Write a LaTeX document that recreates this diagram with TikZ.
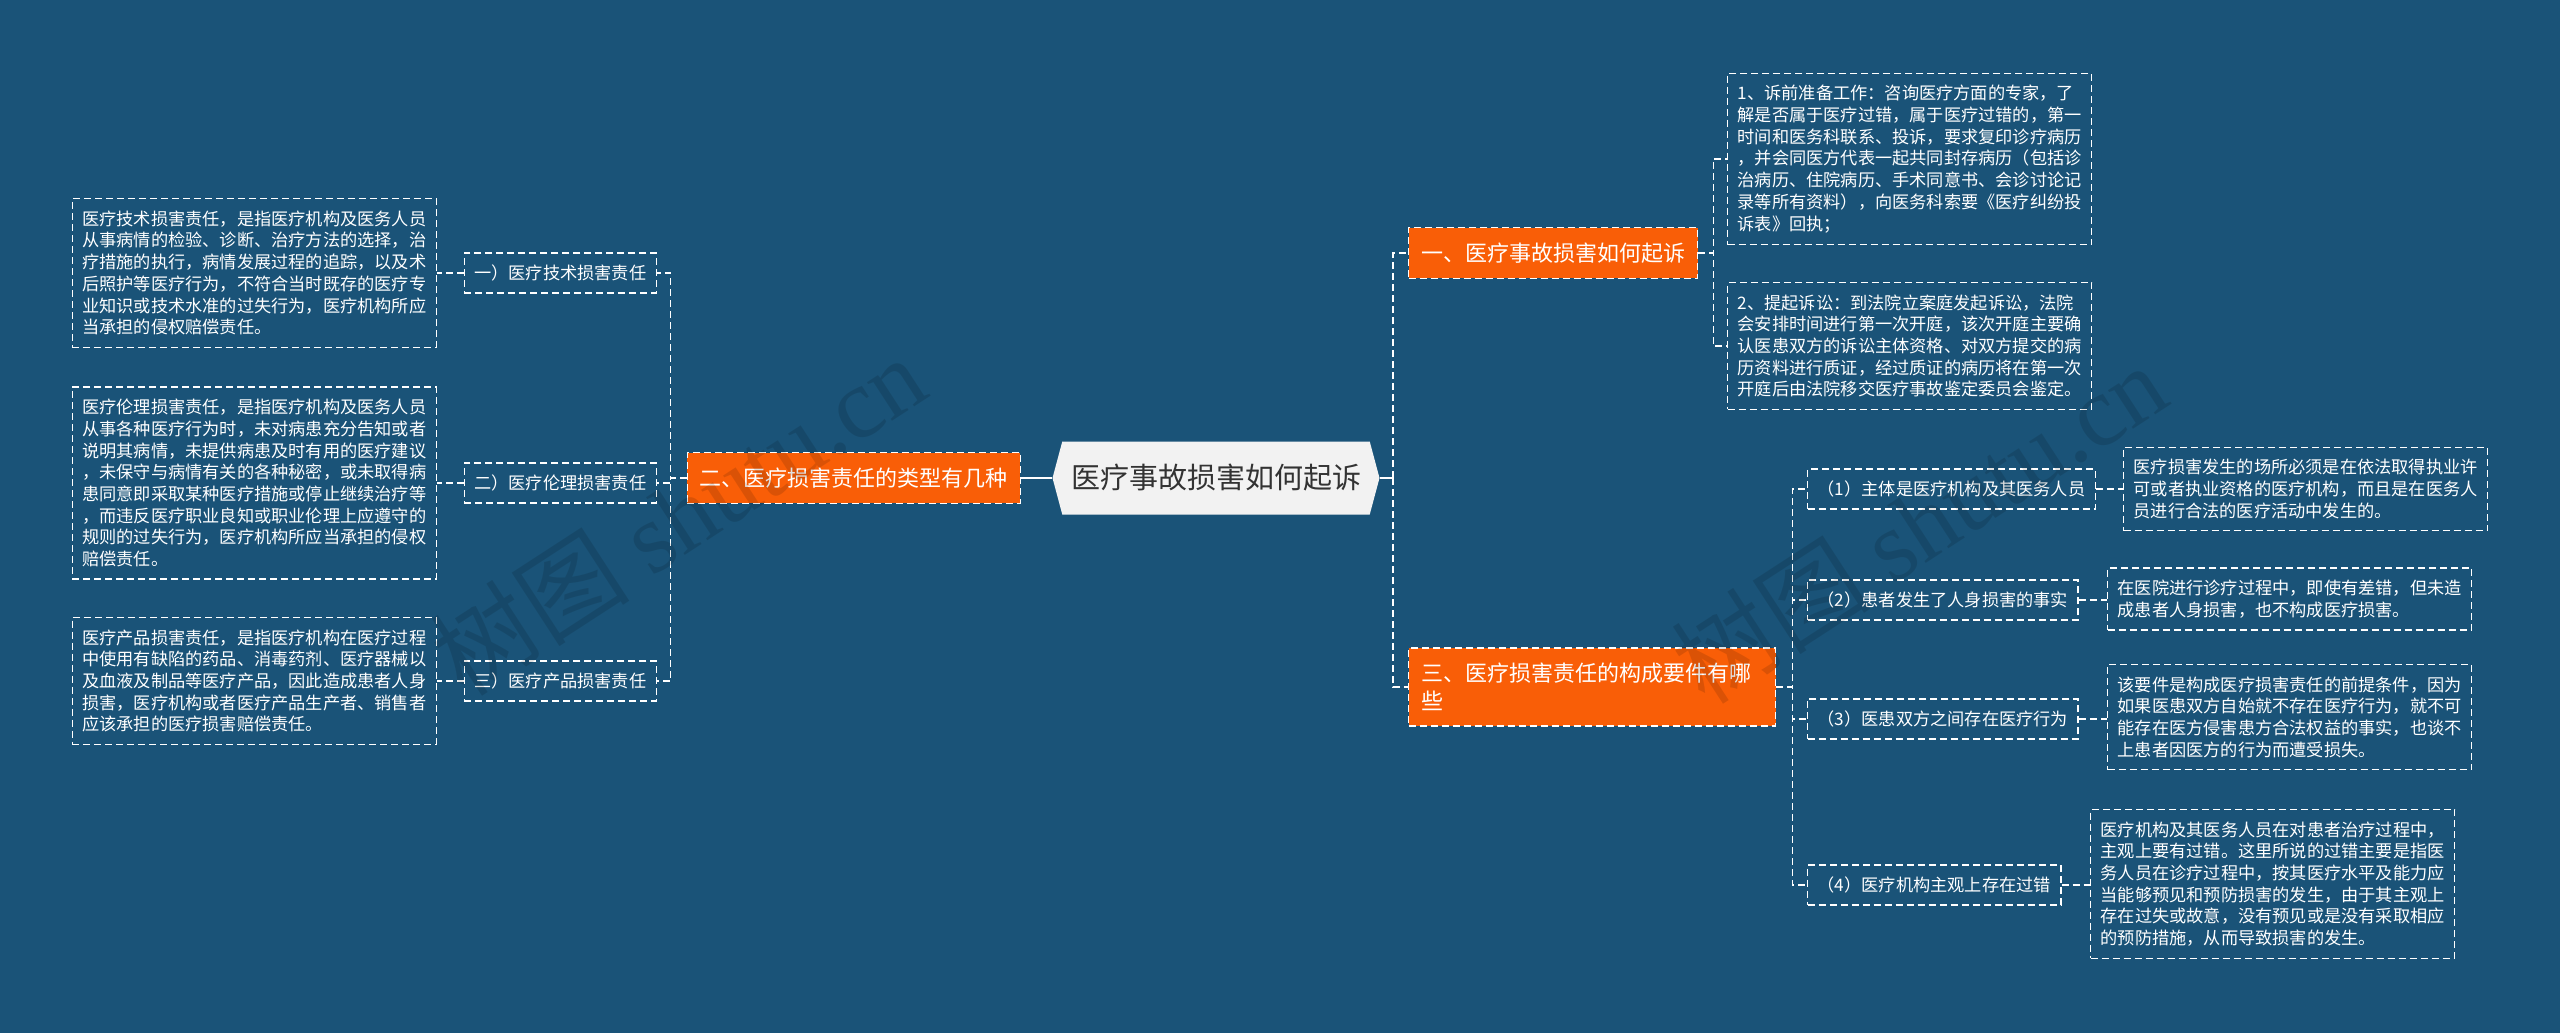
\documentclass[tikz,border=0pt]{standalone}
\usepackage{fontspec}
\setmainfont{Noto Sans CJK SC}
\newfontfamily\markfont{Liberation Serif}
\usetikzlibrary{shapes.symbols, positioning}

\definecolor{bgblue}{HTML}{1A5378}
\definecolor{topicorange}{HTML}{F95E07}
\definecolor{rootfill}{HTML}{F2F2F2}
\definecolor{roottext}{HTML}{333333}

\begin{document}
\begin{tikzpicture}[x=0.5pt, y=-0.5pt,
    root/.style={signal, signal to=west and east, signal pointer angle=150, fill=rootfill, text=roottext, minimum width=163.5pt, minimum height=36.5pt, inner sep=0pt, font=\fontsize{14.5pt}{17pt}\selectfont},
    topic/.style={rectangle, fill=topicorange, draw=white, line width=0.7pt, dash pattern=on 3.5pt off 2pt, text=white, inner xsep=6.25pt, inner ysep=7.5pt, align=left, font=\fontsize{11pt}{14pt}\selectfont},
    item/.style={rectangle, draw=white, line width=0.7pt, dash pattern=on 3.5pt off 2pt, text=white, minimum height=20pt, inner xsep=5pt, font=\fontsize{8.6pt}{10.85pt}\selectfont},
    leaf/.style={rectangle, draw=white, line width=0.7pt, dash pattern=on 3.5pt off 2pt, text=white, align=left, inner xsep=5pt, inner ysep=6pt, font=\fontsize{8.6pt}{10.85pt}\selectfont},
    link/.style={white, line width=0.7pt, dash pattern=on 3.5pt off 2pt},
    mainlink/.style={white, line width=0.9pt},
    watermark/.style={text=black, opacity=0.12, rotate=33, font=\fontsize{50pt}{50pt}\selectfont}
]

    % Background
    \fill[bgblue] (0,0) rectangle (2560,1033);
    \useasboundingbox (0,0) rectangle (2560,1033);

    % Root
    \node[root] (root) at (1216,478) {医疗事故损害如何起诉};

    % Topics
    \node[topic, anchor=east] (typeNode) at (1021,478) {二、医疗损害责任的类型有几种};
    \node[topic, anchor=west] (sueNode) at (1408,253) {一、医疗事故损害如何起诉};
    \node[topic, anchor=west, text width=171pt] (elemNode) at (1408,687) {三、医疗损害责任的构成要件有哪\\些};

    % Left branch
    \node[item, anchor=east] (tech) at (657,273) {一）医疗技术损害责任};
    \node[item, anchor=east] (ethic) at (657,483) {二）医疗伦理损害责任};
    \node[item, anchor=east] (product) at (657,681) {三）医疗产品损害责任};

    \node[leaf, anchor=east] (techD) at (437,273) {医疗技术损害责任，是指医疗机构及医务人员\\从事病情的检验、诊断、治疗方法的选择，治\\疗措施的执行，病情发展过程的追踪，以及术\\后照护等医疗行为，不符合当时既存的医疗专\\业知识或技术水准的过失行为，医疗机构所应\\当承担的侵权赔偿责任。};
    \node[leaf, anchor=east] (ethicD) at (437,483) {医疗伦理损害责任，是指医疗机构及医务人员\\从事各种医疗行为时，未对病患充分告知或者\\说明其病情，未提供病患及时有用的医疗建议\\，未保守与病情有关的各种秘密，或未取得病\\患同意即采取某种医疗措施或停止继续治疗等\\，而违反医疗职业良知或职业伦理上应遵守的\\规则的过失行为，医疗机构所应当承担的侵权\\赔偿责任。};
    \node[leaf, anchor=east] (productD) at (437,681) {医疗产品损害责任，是指医疗机构在医疗过程\\中使用有缺陷的药品、消毒药剂、医疗器械以\\及血液及制品等医疗产品，因此造成患者人身\\损害，医疗机构或者医疗产品生产者、销售者\\应该承担的医疗损害赔偿责任。};

    % Right branch: steps
    \node[leaf, anchor=west] (prep) at (1727,159) {1、诉前准备工作：咨询医疗方面的专家，了\\解是否属于医疗过错，属于医疗过错的，第一\\时间和医务科联系、投诉，要求复印诊疗病历\\，并会同医方代表一起共同封存病历（包括诊\\治病历、住院病历、手术同意书、会诊讨论记\\录等所有资料），向医务科索要《医疗纠纷投\\诉表》回执；};
    \node[leaf, anchor=west] (file) at (1727,346) {2、提起诉讼：到法院立案庭发起诉讼，法院\\会安排时间进行第一次开庭，该次开庭主要确\\认医患双方的诉讼主体资格、对双方提交的病\\历资料进行质证，经过质证的病历将在第一次\\开庭后由法院移交医疗事故鉴定委员会鉴定。};

    % Right branch: elements
    \node[item, anchor=west] (subj) at (1807,489) {（1）主体是医疗机构及其医务人员};
    \node[item, anchor=west] (harm) at (1807,600) {（2）患者发生了人身损害的事实};
    \node[item, anchor=west] (act) at (1807,719) {（3）医患双方之间存在医疗行为};
    \node[item, anchor=west] (fault) at (1807,885) {（4）医疗机构主观上存在过错};

    \node[leaf, anchor=west] (subjD) at (2123,489) {医疗损害发生的场所必须是在依法取得执业许\\可或者执业资格的医疗机构，而且是在医务人\\员进行合法的医疗活动中发生的。};
    \node[leaf, anchor=west] (harmD) at (2107,599) {在医院进行诊疗过程中，即使有差错，但未造\\成患者人身损害，也不构成医疗损害。};
    \node[leaf, anchor=west] (actD) at (2107,717) {该要件是构成医疗损害责任的前提条件，因为\\如果医患双方自始就不存在医疗行为，就不可\\能存在医方侵害患方合法权益的事实，也谈不\\上患者因医方的行为而遭受损失。};
    \node[leaf, anchor=west] (faultD) at (2090,884) {医疗机构及其医务人员在对患者治疗过程中，\\主观上要有过错。这里所说的过错主要是指医\\务人员在诊疗过程中，按其医疗水平及能力应\\当能够预见和预防损害的发生，由于其主观上\\存在过失或故意，没有预见或是没有采取相应\\的预防措施，从而导致损害的发生。};

    % Links
    \draw[mainlink] (root.west) -- (typeNode.east);
    \draw[mainlink] (root.east) -- ++(13,0) coordinate (rootJoin);
    \draw[link] (rootJoin) |- (sueNode.west);
    \draw[link] (rootJoin) |- (elemNode.west);

    \draw[link] (typeNode.west) -- ++(-16,0) |- (tech.east);
    \draw[link] (typeNode.west) -- ++(-16,0) |- (ethic.east);
    \draw[link] (typeNode.west) -- ++(-16,0) |- (product.east);
    \draw[link] (tech.west) -- (techD.east);
    \draw[link] (ethic.west) -- (ethicD.east);
    \draw[link] (product.west) -- (productD.east);

    \draw[link] (sueNode.east) -- ++(15,0) |- (prep.west);
    \draw[link] (sueNode.east) -- ++(15,0) |- (file.west);

    \draw[link] (elemNode.east) -- ++(16,0) |- (subj.west);
    \draw[link] (elemNode.east) -- ++(16,0) |- (harm.west);
    \draw[link] (elemNode.east) -- ++(16,0) |- (act.west);
    \draw[link] (elemNode.east) -- ++(16,0) |- (fault.west);
    \draw[link] (subj.east) -- (subj.east -| subjD.west);
    \draw[link] (harm.east) -- (harm.east -| harmD.west);
    \draw[link] (act.east) -- (act.east -| actD.west);
    \draw[link] (fault.east) -- (fault.east -| faultD.west);

    % Watermarks
    \node[watermark] (markL) at (678,515) {树图 {\markfont shutu.cn}};
    \node[watermark] (markR) at (1919,523) {树图 {\markfont shutu.cn}};

\end{tikzpicture}
\end{document}
